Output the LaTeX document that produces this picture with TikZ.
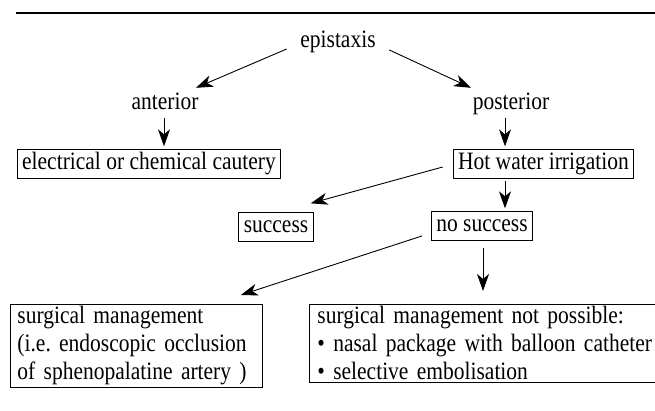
\documentclass[tikz,border=0pt]{standalone}
\usepackage{fontspec}
\setmainfont{Liberation Serif}[FakeStretch=0.86]
\usetikzlibrary{arrows.meta}
\begin{document}
\frenchspacing
\begin{tikzpicture}[x=1pt,y=-1pt,
  every node/.style={font=\fontsize{25}{28}\selectfont, inner sep=0pt},
  lbl/.style={text height=17pt, text depth=5.4pt},
  box/.style={draw, line width=0.9pt, inner xsep=5pt, inner ysep=3pt, text height=17pt, text depth=5.4pt},
  mbox/.style={draw, line width=0.9pt, inner xsep=7pt, inner ysep=2pt, align=left, anchor=north west},
  arr/.style={line width=0.9pt, -{Stealth[length=17pt,width=12pt,inset=5pt]}}]
\useasboundingbox (0,0) rectangle (655,411);
\clip (0,0) rectangle (655,411);
\coordinate (ruleL) at (16,13);
\coordinate (ruleR) at (660,13);
\draw[line width=1.3pt] (ruleL) -- (ruleR);

\node[lbl, anchor=base] (epi) at (338,48) {epistaxis};
\node[lbl, anchor=base] (ant) at (165,110) {anterior};
\node[lbl, anchor=base] (post) at (511,110) {posterior};
\node[box] (caut) at (149,164) {electrical or chemical cautery};
\node[box] (hot) at (543.5,164) {Hot water irrigation};
\node[box] (succ) at (276,227) {success};
\node[box] (nos) at (482,226) {no success};
\node[mbox, text width=238pt] (surg) at (10,304) {surgical management\\(i.e. endoscopic occlusion\\of sphenopalatine artery )};
\node[mbox, inner xsep=8pt, text width=380pt] (nsurg) at (309,304) {surgical management not possible:\\\textbullet{} nasal package with balloon catheter\\\textbullet{} selective embolisation};

\draw[arr] ([shift={(-13.5,6.8)}]epi.west) -- ([shift={(31,-5)}]ant.north);
\draw[arr] ([shift={(13.5,7.8)}]epi.east) -- ([shift={(-40,-5)}]post.north);
\draw[arr] ([shift={(-1,2)}]ant.south) -- ([shift={(15,-3)}]caut.north);
\draw[arr] ([shift={(-6,2)}]post.south) -- ([shift={(-38.5,-3)}]hot.north);
\draw[arr] ([shift={(-10,3)}]hot.west) -- ([shift={(-3,-9)}]succ.north east);
\draw[arr] ([shift={(-38.5,2)}]hot.south) -- ([shift={(23,-3)}]nos.north);
\draw[arr] ([shift={(-9,10)}]nos.west) -- ([shift={(-22,-9)}]surg.north east);
\draw[arr] ([shift={(1,7)}]nos.south) -- ([shift={(174,-13)}]nsurg.north west);
\end{tikzpicture}
\end{document}
